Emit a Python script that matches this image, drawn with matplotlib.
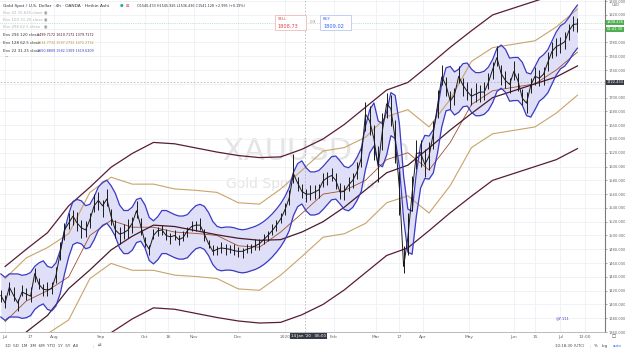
import matplotlib
matplotlib.use("Agg")
import matplotlib.pyplot as plt
import numpy as np

# ---------------- data ----------------
price_days = list(range(-2, 271, 2))
price_close = [1413, 1402, 1425, 1413, 1402, 1418, 1415, 1412, 1445, 1429, 1422, 1421, 1423, 1442,
               1475, 1508, 1518, 1528, 1518, 1511, 1508, 1523, 1543, 1551, 1543, 1553, 1528, 1508,
               1502, 1504, 1508, 1518, 1536, 1514, 1490, 1480, 1500, 1507, 1508, 1500, 1498, 1500,
               1494, 1497, 1507, 1513, 1515, 1515, 1502, 1488, 1477, 1480, 1482, 1481, 1480, 1478,
               1477, 1477, 1480, 1482, 1485, 1488, 1494, 1500, 1507, 1515, 1524, 1537, 1554, 1590,
               1576, 1564, 1560, 1560, 1563, 1566, 1579, 1584, 1587, 1580, 1563, 1564, 1573, 1580,
               1592, 1612, 1676, 1666, 1640, 1600, 1652, 1691, 1684, 1640, 1569, 1455, 1497, 1561,
               1619, 1620, 1603, 1615, 1648, 1689, 1730, 1718, 1695, 1704, 1731, 1718, 1709, 1702,
               1705, 1708, 1708, 1722, 1741, 1758, 1735, 1725, 1719, 1738, 1724, 1699, 1692, 1718,
               1731, 1728, 1734, 1751, 1767, 1774, 1777, 1781, 1797, 1806, 1807]
price_high = [1421, 1413, 1432, 1425, 1408, 1428, 1424, 1425, 1453, 1439, 1429, 1432, 1432, 1454,
              1490, 1518, 1532, 1537, 1534, 1522, 1521, 1533, 1560, 1563, 1552, 1568, 1539, 1522,
              1512, 1517, 1524, 1527, 1550, 1526, 1498, 1486, 1509, 1512, 1515, 1510, 1504, 1508,
              1501, 1506, 1512, 1521, 1521, 1525, 1509, 1494, 1486, 1485, 1490, 1488, 1486, 1487,
              1484, 1482, 1488, 1488, 1495, 1495, 1502, 1506, 1516, 1522, 1532, 1547, 1566, 1618,
              1585, 1575, 1568, 1573, 1573, 1575, 1591, 1592, 1598, 1590, 1576, 1573, 1585, 1590,
              1606, 1628, 1694, 1688, 1660, 1630, 1677, 1706, 1704, 1668, 1594, 1485, 1532, 1586,
              1639, 1638, 1625, 1635, 1666, 1711, 1747, 1730, 1709, 1714, 1746, 1729, 1722, 1714,
              1721, 1718, 1722, 1735, 1752, 1775, 1747, 1739, 1729, 1753, 1736, 1712, 1708, 1729,
              1745, 1740, 1744, 1766, 1780, 1786, 1788, 1795, 1807, 1818, 1816]
price_low = [1403, 1395, 1413, 1405, 1391, 1412, 1406, 1404, 1433, 1422, 1412, 1412, 1415, 1431,
             1465, 1494, 1509, 1515, 1507, 1496, 1498, 1511, 1534, 1537, 1527, 1543, 1515, 1497,
             1487, 1495, 1496, 1504, 1526, 1501, 1484, 1471, 1495, 1499, 1501, 1494, 1488, 1493,
             1486, 1492, 1498, 1507, 1507, 1508, 1492, 1482, 1472, 1472, 1475, 1472, 1474, 1471,
             1469, 1467, 1475, 1475, 1479, 1479, 1488, 1492, 1500, 1506, 1518, 1529, 1544, 1576,
             1564, 1555, 1549, 1552, 1553, 1554, 1570, 1573, 1579, 1567, 1553, 1552, 1564, 1569,
             1582, 1600, 1651, 1646, 1610, 1578, 1624, 1671, 1659, 1605, 1529, 1445, 1472, 1536,
             1597, 1600, 1585, 1595, 1626, 1671, 1718, 1703, 1684, 1690, 1721, 1702, 1697, 1689,
             1694, 1693, 1696, 1712, 1727, 1746, 1719, 1714, 1706, 1726, 1709, 1689, 1678, 1706,
             1718, 1717, 1719, 1739, 1757, 1760, 1765, 1770, 1784, 1796, 1795]

# short envelope (blue) basis, same days as price
blue_basis = [1413, 1408, 1413, 1413, 1413, 1411, 1412, 1415, 1424, 1429, 1432, 1424, 1422, 1429,
              1447, 1475, 1500, 1518, 1521, 1519, 1512, 1514, 1525, 1539, 1546, 1549, 1541, 1530,
              1513, 1505, 1505, 1510, 1521, 1523, 1513, 1495, 1490, 1496, 1505, 1505, 1502, 1499,
              1497, 1497, 1499, 1506, 1512, 1514, 1511, 1502, 1489, 1482, 1480, 1481, 1481, 1480,
              1478, 1477, 1478, 1480, 1482, 1485, 1489, 1494, 1500, 1507, 1515, 1525, 1538, 1560,
              1573, 1577, 1567, 1561, 1561, 1563, 1569, 1576, 1583, 1584, 1577, 1569, 1567, 1572,
              1582, 1595, 1627, 1651, 1661, 1635, 1631, 1648, 1676, 1672, 1631, 1555, 1507, 1504,
              1559, 1600, 1614, 1613, 1622, 1651, 1689, 1712, 1714, 1706, 1710, 1718, 1719, 1710,
              1705, 1705, 1707, 1713, 1724, 1740, 1745, 1739, 1726, 1727, 1727, 1720, 1705, 1703,
              1714, 1726, 1731, 1738, 1751, 1764, 1773, 1777, 1785, 1795, 1803]
blue_offset = 31.25

env_days = list(range(0, 271, 10))
tan_basis = [1375, 1405, 1420, 1440, 1500, 1522, 1512, 1512, 1505, 1503, 1500, 1485, 1483, 1505,
             1532, 1560, 1565, 1580, 1610, 1620, 1595, 1635, 1690, 1710, 1715, 1720, 1740, 1766]
tan_offset = 62.5
dark_basis = [1335, 1360, 1384, 1423, 1450, 1479, 1499, 1515, 1513, 1507, 1501, 1496, 1493, 1494,
              1505, 1520, 1541, 1566, 1591, 1602, 1627, 1653, 1677, 1700, 1710, 1720, 1730, 1746]
dark_offset = 120

tick_days = [0, 12, 23, 45, 66, 77, 89, 110, 132, 155, 175, 186, 197, 219, 240, 250, 262, 273.5]
tick_labels = ["Jul", "17", "Aug", "Sep", "Oct", "16", "Nov", "Dec", "2020", "Feb", "Mar", "17",
               "Apr", "May", "Jun", "15", "Jul", "13:00"]
price_ticks = list(range(1360, 1841, 20))
covered_ticks = [1800, 1720]   # hidden behind the price tags on the scale

# ---------------- figure ----------------
W, H = 625, 352
fig = plt.figure(figsize=(W / 100, H / 100), dpi=100)
fig.patch.set_facecolor("white")
ax = fig.add_axes([0, 1 - 332 / H, 605 / W, 332 / H])
ax.set_facecolor("white")
ax.set_xlim(-2.4, 283)
ax.set_ylim(1364.5, 1841.6)

ax.set_xticks(tick_days)
ax.set_xticklabels(tick_labels)
ax.set_yticks(price_ticks)
ax.set_yticklabels(["" if p in covered_ticks else f"{p}.000" for p in price_ticks])
ax.grid(True, color="#eef0f4", lw=0.6)
ax.set_axisbelow(True)
ax.yaxis.tick_right()
ax.tick_params(axis="y", labelsize=2.6, colors="#666666", length=1.5, width=0.4, pad=1.2)
ax.tick_params(axis="x", labelsize=3.2, colors="#666666", length=0, pad=2.5)
for s in ["top", "left"]:
    ax.spines[s].set_visible(False)
ax.spines["right"].set_color("#7a7a7a")
ax.spines["right"].set_linewidth(0.8)
ax.spines["bottom"].set_color("#b0b0b0")
ax.spines["bottom"].set_linewidth(0.6)

# watermark
ax.text(223 / 605, 0.545, "XAUUSD, 4h", transform=ax.transAxes, ha="left", va="center",
        fontsize=22, color="#e4e4e4", zorder=0.5)
ax.text(226 / 605, 0.445, "Gold Spot / U.S. Dollar", transform=ax.transAxes, ha="left",
        va="center", fontsize=10, color="#e4e4e4", zorder=0.5)

# envelopes
pdays = np.array(price_days)
bb = np.array(blue_basis, float)
ax.fill_between(pdays, bb - blue_offset, bb + blue_offset, color="#dcdcf7", alpha=0.9, lw=0,
                zorder=1)
ax.plot(pdays, bb + blue_offset, color="#3a3ac4", lw=0.9, zorder=3)
ax.plot(pdays, bb - blue_offset, color="#3a3ac4", lw=0.9, zorder=3)

ed = np.array(env_days)
tb = np.array(tan_basis, float)
ax.plot(ed, tb + tan_offset, color="#c9a46a", lw=0.8, zorder=2)
ax.plot(ed, tb - tan_offset, color="#c9a46a", lw=0.8, zorder=2)
ax.plot(ed, tb, color="#a0502e", lw=0.6, zorder=2)

db = np.array(dark_basis, float)
ax.plot(ed, db + dark_offset, color="#5a1c36", lw=0.9, zorder=2)
ax.plot(ed, db - dark_offset, color="#5a1c36", lw=0.9, zorder=2)
ax.plot(ed, db, color="#4a1a2c", lw=0.9, zorder=2)

# price (Heikin Ashi candles, shown as wicks + close path)
ax.vlines(price_days, price_low, price_high, color="#1a1a1a", lw=0.7, zorder=4)
ax.plot(price_days, price_close, color="#1a1a1a", lw=0.7, zorder=4)

# current price line and crosshair
ax.axhline(1808.4, color="#8fcf9c", lw=0.5, ls=":", zorder=1)
ax.axvline(141.5, color="#9598a1", lw=0.4, ls=(0, (3, 3)), zorder=1)
ax.axhline(1722.4, color="#9598a1", lw=0.4, ls=(0, (3, 3)), zorder=1)

trans = ax.get_yaxis_transform()
box = dict(boxstyle="square,pad=0.15", ec="none")
ax.text(1.003, 1809.5, "1808.426", transform=trans, fontsize=2.6, color="white", va="center",
        ha="left", bbox=dict(box, fc="#4caf50"), clip_on=False, zorder=10)
ax.text(1.003, 1799.0, "01:41:30", transform=trans, fontsize=2.6, color="white", va="center",
        ha="left", bbox=dict(box, fc="#4caf50"), clip_on=False, zorder=10)
ax.text(1.003, 1722.4, "1722.433", transform=trans, fontsize=2.6, color="white", va="center",
        ha="left", bbox=dict(box, fc="#363a45"), clip_on=False, zorder=10)


def ft(x, y, s, **kw):
    kw.setdefault("fontsize", 3.2)
    kw.setdefault("color", "#333333")
    fig.text(x / W, 1 - y / H, s, va="center", **kw)


ft(612, 5, "USD", color="#666666", fontsize=2.6)

# header / legend
ft(3, 6, "Gold Spot / U.S. Dollar · 4h · OANDA · Heikin Ashi")
ft(120, 6, "●", color="#26a69a", fontsize=3.0)
ft(126, 6, "⊠", color="#e05050", fontsize=3.0)
ft(137, 6, "O1540.433 H1545.926 L1536.436 C1541.128 +2.995 (+0.19%)", fontsize=2.4)
ft(3, 13, "Env 22 15.625 close", color="#b0b0b0", fontsize=2.8)
ft(44, 13, "◉", color="#888888", fontsize=2.8)
ft(3, 20, "Env 100 31.25 close", color="#b0b0b0", fontsize=2.8)
ft(44, 20, "◉", color="#888888", fontsize=2.8)
ft(3, 27, "Env 296 62.5 close", color="#b0b0b0", fontsize=2.8)
ft(44, 27, "◉", color="#888888", fontsize=2.8)
ft(3, 35, "Env 296 120 close", fontsize=2.8)
ft(37, 35, "1499.7172 1619.7172 1379.7172", color="#4a1a2c", fontsize=2.4)
ft(3, 43, "Env 128 62.5 close", fontsize=2.8)
ft(37, 43, "1534.7732 1597.2732 1472.2732", color="#b8904e", fontsize=2.4)
ft(3, 51, "Env 22 31.25 close", fontsize=2.8)
ft(37, 51, "1550.8809 1582.1309 1519.6309", color="#3a3ac4", fontsize=2.4)
ft(5, 58, "^", color="#666666", fontsize=3.0)

# sell / buy boxes
fig.patches.append(plt.Rectangle((275 / W, 1 - 30 / H), 31 / W, 15 / H,
                                 transform=fig.transFigure, fc="white", ec="#f2b8b8", lw=0.6))
ft(278, 19, "SELL", color="#e04848", fontsize=2.8)
ft(278, 26, "1808.73", color="#e04848", fontsize=3.6)
ft(310, 22, "0.3", color="#888888", fontsize=3.0)
fig.patches.append(plt.Rectangle((320 / W, 1 - 30 / H), 31 / W, 15 / H,
                                 transform=fig.transFigure, fc="white", ec="#b8c8f2", lw=0.6))
ft(323, 19, "BUY", color="#2962ff", fontsize=2.8)
ft(323, 26, "1809.02", color="#2962ff", fontsize=3.6)

# crosshair time label
ft(291, 336, "14 Jan '20   06:00", color="white", fontsize=2.9,
   bbox=dict(boxstyle="square,pad=0.3", fc="#363a45", ec="none"))

# event marker
ft(556, 318, "@7.111", color="#3a3ac4", fontsize=2.6)

# bottom toolbar
ft(5, 346, "1D  5D  1M  3M  6M  YTD  1Y  5Y  All", color="#444444", fontsize=3.0)
ft(93, 346, "|", color="#cccccc", fontsize=3.0)
ft(98, 346, "⇄", color="#444444", fontsize=3.0)
ft(555, 346, "10:18:30 (UTC)", color="#444444", fontsize=2.8)
ft(589, 346, "|", color="#cccccc", fontsize=2.8)
ft(594, 346, "%", color="#444444", fontsize=2.8)
ft(602, 346, "log", color="#444444", fontsize=2.8)
ft(613, 346, "auto", color="#2962ff", fontsize=2.8)
ft(612, 336, "□", color="#444444", fontsize=3.2)

fig.savefig("out.png", dpi=100)
